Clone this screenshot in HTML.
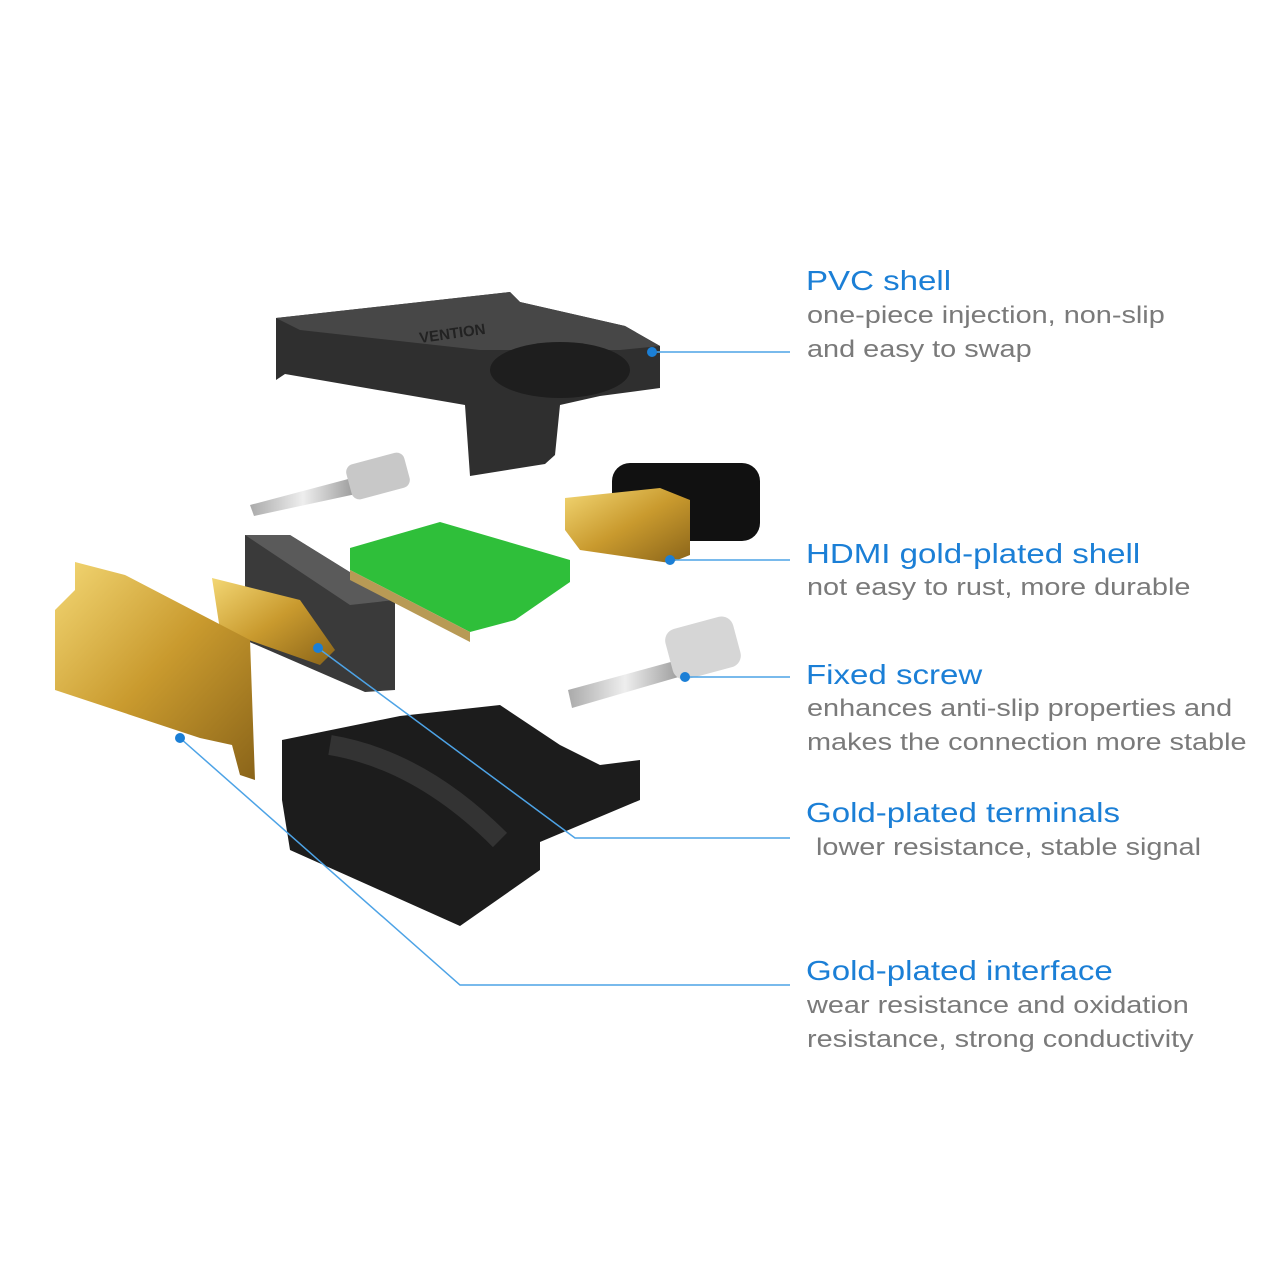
<!DOCTYPE html>
<html><head><meta charset="utf-8"><style>
html,body{margin:0;padding:0;background:#fff}
.w{position:relative;width:1280px;height:1280px;overflow:hidden;font-family:"Liberation Sans",sans-serif}
.t{position:absolute;left:806px;color:#1b7fd6;font-size:28px;white-space:nowrap;transform:scaleX(1.18);transform-origin:0 0}
.d{position:absolute;left:807px;color:#7a7a7a;font-size:24.5px;white-space:nowrap;transform:scaleX(1.178);transform-origin:0 0}
svg{position:absolute;left:0;top:0}
</style></head><body><div class="w">
<svg width="1280" height="1280">
<defs>
<linearGradient id="g" x1="0" y1="0" x2="1" y2="1"><stop offset="0" stop-color="#f3d774"/><stop offset="0.5" stop-color="#c99a2e"/><stop offset="1" stop-color="#8a6419"/></linearGradient>
<linearGradient id="s" x1="0" y1="0" x2="1" y2="0"><stop offset="0" stop-color="#aaa"/><stop offset="0.5" stop-color="#eee"/><stop offset="1" stop-color="#999"/></linearGradient>
</defs>
<polygon points="276,318 510,292 520,302 625,326 660,346 660,388 600,396 560,405 555,455 545,464 470,476 465,405 285,374 276,380" fill="#2f2f2f"/>
<polygon points="276,318 510,292 520,302 625,326 660,346 620,350 480,350 300,330" fill="#474747"/>
<ellipse cx="560" cy="370" rx="70" ry="28" fill="#1e1e1e"/>
<text x="420" y="343" fill="#222" font-size="15" font-weight="bold" transform="rotate(-8 420 343)" font-family="Liberation Sans">VENTION</text>
<polygon points="250,505 352,478 356,494 254,516" fill="url(#s)"/>
<rect x="348" y="458" width="60" height="36" rx="8" fill="#c8c8c8" transform="rotate(-15 378 476)"/>
<rect x="612" y="463" width="148" height="78" rx="18" fill="#111"/>
<polygon points="565,498 660,488 690,500 690,555 670,563 580,550 565,530" fill="url(#g)"/>
<polygon points="245,535 290,535 395,600 395,690 365,692 245,640" fill="#3a3a3a"/>
<polygon points="245,535 290,535 395,600 350,605" fill="#5a5a5a"/>
<polygon points="212,578 300,600 335,650 320,665 220,630" fill="url(#g)"/>
<polygon points="350,548 440,522 570,560 570,582 515,620 470,632 350,570" fill="#2fbf3a"/>
<polygon points="350,570 470,632 470,642 350,580" fill="#b89a55"/>
<polygon points="75,562 125,575 250,640 255,780 240,775 232,745 200,738 55,690 55,610 75,590" fill="url(#g)"/>
<polygon points="568,690 678,660 682,676 572,708" fill="url(#s)"/>
<rect x="668" y="622" width="70" height="52" rx="12" fill="#d6d6d6" transform="rotate(-15 703 648)"/>
<polygon points="282,740 400,716 500,705 560,745 600,765 640,760 640,800 540,842 540,870 460,926 290,850 282,800" fill="#1c1c1c"/>
<path d="M330,745 Q420,760 500,840" stroke="#333" stroke-width="20" fill="none"/>
<g stroke="#4da3e6" stroke-width="1.5" fill="none">
<line x1="652" y1="352" x2="790" y2="352"/>
<line x1="670" y1="560" x2="790" y2="560"/>
<line x1="685" y1="677" x2="790" y2="677"/>
<polyline points="318,648 575,838 790,838"/>
<polyline points="180,738 460,985 790,985"/>
</g>
<g fill="#1b7fd6"><circle cx="652" cy="352" r="5"/><circle cx="670" cy="560" r="5"/><circle cx="685" cy="677" r="5"/><circle cx="318" cy="648" r="5"/><circle cx="180" cy="738" r="5"/></g>
</svg>
<div class="t" style="top:265px">PVC shell</div>
<div class="d" style="top:302px">one-piece injection, non-slip</div>
<div class="d" style="top:336px">and easy to swap</div>
<div class="t" style="top:538px">HDMI gold-plated shell</div>
<div class="d" style="top:574px">not easy to rust, more durable</div>
<div class="t" style="top:659px">Fixed screw</div>
<div class="d" style="top:695px">enhances anti-slip properties and</div>
<div class="d" style="top:729px">makes the connection more stable</div>
<div class="t" style="top:797px">Gold-plated terminals</div>
<div class="d" style="top:834px;left:816px">lower resistance, stable signal</div>
<div class="t" style="top:955px">Gold-plated interface</div>
<div class="d" style="top:992px">wear resistance and oxidation</div>
<div class="d" style="top:1026px">resistance, strong conductivity</div>
</div></body></html>
